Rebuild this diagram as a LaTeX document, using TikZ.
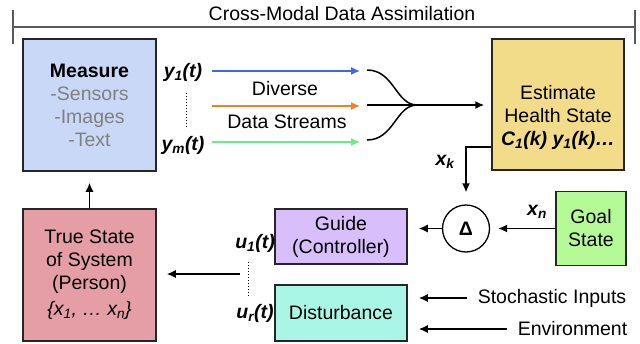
\documentclass[tikz,border=0pt]{standalone}
\usepackage{fontspec}
\setmainfont{Liberation Sans}
\usetikzlibrary{arrows.meta}

\definecolor{measurefill}{RGB}{201,216,246}
\definecolor{estfill}{RGB}{242,220,138}
\definecolor{truefill}{RGB}{230,158,166}
\definecolor{guidefill}{RGB}{216,190,250}
\definecolor{disturbfill}{RGB}{170,246,230}
\definecolor{goalfill}{RGB}{182,250,152}
\definecolor{streamblue}{RGB}{68,102,221}
\definecolor{streamorange}{RGB}{240,128,32}
\definecolor{streamgreen}{RGB}{102,240,132}
\definecolor{subgray}{RGB}{128,128,128}
\definecolor{framegray}{RGB}{90,90,90}

\begin{document}
\begin{tikzpicture}[x=1pt,y=-1pt,>={Latex[length=9pt,width=8pt]},line width=1.5pt,
    font=\fontsize{19.5}{23}\selectfont,
    block/.style={draw=black!85,rectangle,inner sep=0pt,align=center},
    tag/.style={inner sep=0pt,font=\fontsize{19.5}{23}\selectfont\bfseries\itshape},
    stream/.style={->,line width=1.3pt},
    side/.style={anchor=west,inner ysep=0pt,inner xsep=10pt}]

\useasboundingbox (0,0) rectangle (640,343);

\node (title) at (342,14) {Cross-Modal Data Assimilation};

\path [draw,-,framegray,line width=1.2pt]
    (13,27) -- (635,27)
    (13,10) -- (13,44)
    (635,10) -- (635,44)
;

\node [block,fill=measurefill,minimum width=133pt,minimum height=132pt] (measure) at (89.5,105)
    {\textbf{Measure}\\\textcolor{subgray}{-Sensors}\\\textcolor{subgray}{-Images}\\\textcolor{subgray}{-Text}};
\node [block,fill=estfill,minimum width=132pt,minimum height=131pt] (estimate) at (558,104.5) {};
\node [align=center,inner sep=0pt] (estlabel) at (558,117)
    {Estimate\\Health State\\\textbf{\textit{C\textsubscript{1}(k) y\textsubscript{1}(k)\dots}}};
\node [block,fill=truefill,minimum width=133pt,minimum height=132pt] (truestate) at (89.5,275)
    {True State\\of System\\(Person)\\[3pt]\textit{\{x\textsubscript{1}, \dots\ x\textsubscript{n}\}}};
\node [block,fill=guidefill,minimum width=132pt,minimum height=55pt] (guide) at (341,236.5) {Guide\\(Controller)};
\node [block,fill=disturbfill,minimum width=132pt,minimum height=56pt] (disturb) at (341,313) {Disturbance};
\node [block,fill=goalfill,minimum width=70pt,minimum height=74pt] (goal) at (591,228.5) {Goal\\State};
\node [draw,circle,minimum size=47pt,inner sep=0pt,line width=1.3pt] (delta) at (466,228.5) {\textbf{Δ}};

% stream labels
\node [tag] (y1) at (183,72) {y\textsubscript{1}(t)};
\node [tag] (ym) at (183,145) {y\textsubscript{m}(t)};
\node (diverse) at (285,89) {Diverse};
\node (datastreams) at (287,122) {Data Streams};
\node [tag] (xk) at (445,162) {x\textsubscript{k}};
\node [tag] (xn) at (537,212) {x\textsubscript{n}};
\node [tag] (u1) at (255,243) {u\textsubscript{1}(t)};
\node [tag] (ur) at (255,313) {u\textsubscript{r}(t)};

\node [side] (stoch) at (467,298) {Stochastic Inputs};
\node [side] (environ) at (507,329) {Environment};

\draw [dotted,line width=1pt] (186,93) -- (186,128);
\draw [dotted,line width=1pt] (248,262) -- (248,297);

% diverse streams
\foreach \i/\c/\y in {1/streamblue/71,2/streamorange/106,3/streamgreen/142} {
    \coordinate (src\i) at (212,\y);
    \coordinate (dst\i) at (360,\y);
    \draw [stream,\c] (src\i) -- (dst\i);
}

\coordinate (merge) at (417,105);
\coordinate (mtop) at (367,70);
\coordinate (mmid) at (367,105);
\coordinate (mbot) at (367,140);

\path [draw,-]
    (mtop) .. controls (394,70) and (396,105) .. (merge)
    (mbot) .. controls (394,140) and (396,105) .. (merge)
;
\draw [->,shorten >=7pt] (mmid) -- (mmid -| estimate.west);

% loop
\coordinate (kcorner) at (466,147);
\draw [->,shorten >=12pt] (kcorner -| estimate.west) -- (kcorner) -- (delta.north);
\draw [->,shorten >=8pt] (goal.west) -- (delta.east);
\draw [->,shorten >=11pt] (delta.west) -- (delta.west -| guide.east);

\coordinate (ujoin) at (240,274);
\draw [->,shorten >=10pt] (ujoin) -- (ujoin -| truestate.east);
\draw [->,shorten >=11pt] (truestate.north) -- (measure.south);

\draw [->,shorten >=11pt] (stoch) -- (stoch -| disturb.east);
\draw [->,shorten >=11pt] (environ) -- (environ -| disturb.east);

\end{tikzpicture}
\end{document}
